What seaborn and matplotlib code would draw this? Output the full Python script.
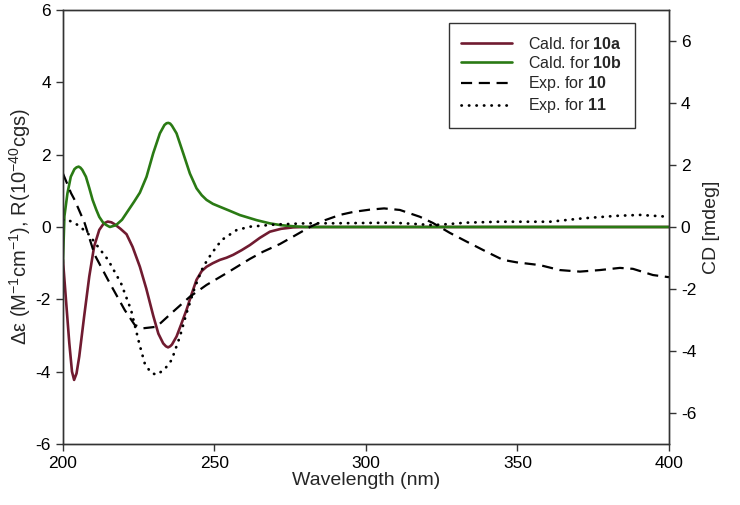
import numpy as np
import pandas as pd
import matplotlib
matplotlib.use("Agg")
import matplotlib.pyplot as plt
import seaborn as sns

# calculated ECD curves (left axis, delta epsilon)
wl_10a = [200.0, 201.0, 202.1, 203.0, 203.7, 204.5, 205.4, 207.0, 208.7, 210.3,
          212.0, 213.5, 214.8, 216.0, 217.0, 219.0, 221.0, 223.0, 225.4, 227.5,
          229.8, 231.5, 233.1, 234.0, 234.7, 235.4, 236.0, 237.5, 239.0, 240.8,
          242.5, 244.1, 245.8, 247.4, 249.5, 251.8, 254.0, 256.2, 259.0, 261.7,
          265.0, 268.3, 272.0, 276.0, 280.0, 300.0, 400.0]
de_10a = [-0.9, -2.0, -3.2, -4.0, -4.23, -4.05, -3.58, -2.48, -1.37, -0.54,
          -0.08, 0.1, 0.15, 0.13, 0.08, -0.05, -0.2, -0.55, -1.1, -1.7,
          -2.45, -2.95, -3.22, -3.3, -3.33, -3.3, -3.25, -3.03, -2.7, -2.29,
          -1.85, -1.46, -1.22, -1.1, -1.0, -0.91, -0.85, -0.77, -0.64, -0.5,
          -0.3, -0.13, -0.05, -0.01, 0.0, 0.0, 0.0]

wl_10b = [200.0, 200.5, 201.5, 202.6, 203.8, 204.5, 205.2, 205.8, 206.4, 207.6,
          208.7, 209.8, 211.0, 212.0, 213.2, 214.2, 215.5, 217.5, 219.5, 221.5,
          223.5, 225.4, 227.6, 229.8, 232.0, 233.5, 234.2, 234.8, 235.4, 236.0,
          237.5, 239.7, 241.9, 244.1, 245.8, 247.4, 249.5, 251.8, 255.0, 258.4,
          263.9, 268.3, 272.0, 276.0, 280.0, 300.0, 400.0]
de_10b = [-1.0, 0.3, 0.93, 1.39, 1.6, 1.65, 1.67, 1.64, 1.58, 1.39,
          1.08, 0.75, 0.48, 0.28, 0.13, 0.06, 0.0, 0.05, 0.2, 0.45,
          0.7, 0.95, 1.39, 2.04, 2.59, 2.82, 2.87, 2.88, 2.86, 2.8,
          2.59, 2.04, 1.48, 1.07, 0.88, 0.75, 0.64, 0.56, 0.45, 0.33,
          0.19, 0.1, 0.05, 0.02, 0.0, 0.0, 0.0]

# experimental CD (right axis, mdeg)
wl_exp10 = [200.0, 202.7, 203.9, 207.2, 210.5, 214.9, 220.4, 223.7, 226.4, 230.9,
            236.4, 241.9, 247.4, 254.0, 261.7, 266.0, 271.6, 276.5, 281.5, 286.5,
            291.4, 296.0, 301.3, 306.0, 311.2, 317.8, 322.1, 327.7, 333.2, 339.8,
            345.2, 349.7, 357.4, 364.0, 370.6, 377.2, 383.8, 388.1, 394.7, 400.0]
cd_exp10 = [1.73, 1.09, 0.87, 0.12, -0.9, -1.71, -2.68, -3.16, -3.27, -3.22,
            -2.73, -2.25, -1.87, -1.49, -1.03, -0.8, -0.55, -0.28, 0.0, 0.22,
            0.39, 0.49, 0.56, 0.6, 0.55, 0.33, 0.13, -0.19, -0.47, -0.8,
            -1.06, -1.14, -1.23, -1.39, -1.44, -1.39, -1.32, -1.35, -1.55, -1.62]

wl_exp11 = [200.0, 201.6, 203.3, 205.0, 208.2, 211.6, 214.9, 219.2, 222.5, 225.3,
            227.0, 229.0, 230.9, 233.5, 235.9, 238.6, 240.8, 243.6, 246.3, 249.1,
            252.4, 257.3, 261.7, 270.0, 280.4, 289.0, 300.0, 309.0, 316.0, 322.0,
            328.0, 333.0, 344.0, 360.7, 371.6, 382.7, 390.4, 400.0]
cd_exp11 = [0.23, 0.23, 0.15, 0.06, -0.2, -0.64, -1.06, -1.82, -2.68, -3.8,
            -4.4, -4.7, -4.77, -4.6, -4.29, -3.54, -2.78, -1.93, -1.28, -0.85,
            -0.42, -0.1, 0.01, 0.08, 0.12, 0.12, 0.13, 0.14, 0.1, 0.06,
            0.1, 0.14, 0.17, 0.17, 0.28, 0.36, 0.39, 0.33]

sns.set_style("ticks")
plt.rcParams['font.family'] = ['Liberation Sans', 'DejaVu Sans']
plt.rcParams['mathtext.fontset'] = 'custom'
plt.rcParams['mathtext.rm'] = 'Liberation Sans'
plt.rcParams['mathtext.bf'] = 'Liberation Sans:bold'
plt.rcParams['mathtext.it'] = 'Liberation Sans:italic'
plt.rcParams['axes.unicode_minus'] = False

fig = plt.figure(figsize=(7.4, 5.05), dpi=100)
ax = fig.add_axes([0.085, 0.121, 0.819, 0.859])
ax2 = ax.twinx()

red = '#701b30'
green = '#2a7a14'

sns.lineplot(x=wl_10a, y=de_10a, ax=ax, color=red, linewidth=1.9,
             sort=False, estimator=None, label='Cald. for $\\bf{10a}$', legend=False)
sns.lineplot(x=wl_10b, y=de_10b, ax=ax, color=green, linewidth=1.9,
             sort=False, estimator=None, label='Cald. for $\\bf{10b}$', legend=False)
sns.lineplot(x=wl_exp10, y=cd_exp10, ax=ax2, color='black', linewidth=1.6,
             linestyle=(0, (5, 3)), sort=False, estimator=None,
             label='Exp. for $\\bf{10}$', legend=False)
sns.lineplot(x=wl_exp11, y=cd_exp11, ax=ax2, color='black', linewidth=2.0,
             linestyle=(0, (0.1, 2.6)), dash_capstyle='round', sort=False,
             estimator=None, label='Exp. for $\\bf{11}$', legend=False)

ax.set_xlim(200, 400)
ax.set_ylim(-6, 6)
ax2.set_ylim(-7, 7)
ax.set_xticks([200, 250, 300, 350, 400])
ax.set_yticks([-6, -4, -2, 0, 2, 4, 6])
ax2.set_yticks([-6, -4, -2, 0, 2, 4, 6])

ax.set_xlabel('Wavelength (nm)', fontsize=14, labelpad=1)
ax.set_ylabel('Δε (M$^{-1}$cm$^{-1}$), R(10$^{-40}$cgs)', fontsize=14.5, labelpad=2)
ax2.set_ylabel('CD [mdeg]', fontsize=14, labelpad=5)

for a in (ax, ax2):
    a.tick_params(direction='out', length=5, width=1, labelsize=12.5,
                  color='#333333', labelcolor='black')
    for s in a.spines.values():
        s.set_color('#333333')
        s.set_linewidth(1.0)

h1, l1 = ax.get_legend_handles_labels()
h2, l2 = ax2.get_legend_handles_labels()
leg = ax2.legend(h1 + h2, l1 + l2, loc='upper right', bbox_to_anchor=(0.944, 0.970),
                 borderaxespad=0, fontsize=11.5, handlelength=3.2, handletextpad=1.0,
                 labelspacing=0.2, borderpad=0.8, fancybox=False, framealpha=1)
leg.get_frame().set_edgecolor('#333333')
leg.get_frame().set_linewidth(1.0)

fig.savefig('out.png', dpi=100)
